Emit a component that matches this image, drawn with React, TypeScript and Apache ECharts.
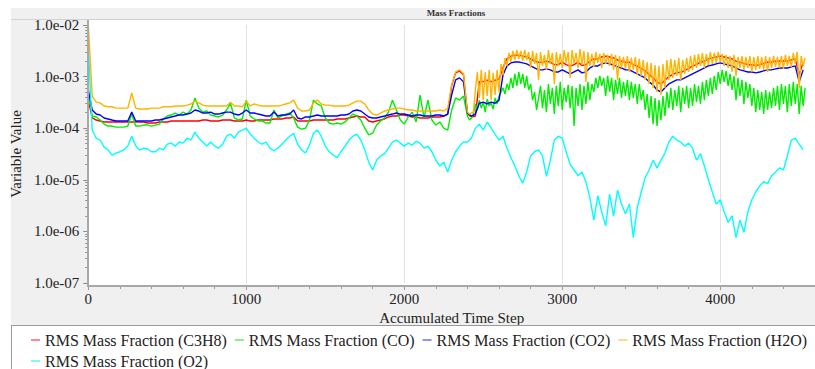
import React, { useEffect, useRef } from "react";
import * as echarts from "echarts";

// Sampling of the read-off points (accumulated time steps)
const COARSE_STEP = 25; // every sample of the coarse arrays
const FINE_START = 2400; // the noisy part of H2O / CO is read more densely
const FINE_STEP = 12.5;

const c3h8 = [
  3.5e-4, 1.58e-4, 1.44e-4, 1.38e-4, 1.32e-4, 1.32e-4, 1.32e-4, 1.32e-4, 1.32e-4, 1.32e-4,
  1.32e-4, 1.32e-4, 1.32e-4, 1.32e-4, 1.32e-4, 1.26e-4, 1.26e-4, 1.26e-4, 1.32e-4, 1.32e-4,
  1.32e-4, 1.38e-4, 1.38e-4, 1.38e-4, 1.38e-4, 1.38e-4, 1.38e-4, 1.38e-4, 1.38e-4, 1.44e-4,
  1.44e-4, 1.38e-4, 1.38e-4, 1.38e-4, 1.44e-4, 1.44e-4, 1.44e-4, 1.38e-4, 1.38e-4, 1.38e-4,
  1.44e-4, 1.38e-4, 1.38e-4, 1.44e-4, 1.44e-4, 1.44e-4, 1.44e-4, 1.51e-4, 1.51e-4, 1.51e-4,
  1.58e-4, 1.58e-4, 1.65e-4, 1.38e-4, 1.38e-4, 1.38e-4, 1.38e-4, 1.44e-4, 1.44e-4, 1.44e-4,
  1.44e-4, 1.44e-4, 1.44e-4, 1.51e-4, 1.51e-4, 1.51e-4, 1.58e-4, 1.65e-4, 1.72e-4, 1.65e-4,
  1.65e-4, 1.38e-4, 1.32e-4, 1.38e-4, 1.44e-4, 1.51e-4, 1.65e-4, 1.72e-4, 1.72e-4, 1.8e-4,
  1.8e-4, 1.72e-4, 1.65e-4, 1.65e-4, 1.58e-4, 1.58e-4, 1.58e-4, 1.65e-4, 1.65e-4, 1.65e-4,
  1.72e-4, 1.88e-4, 6.6e-4, 1.18e-3, 1.29e-3, 1.08e-3, 1.88e-4, 1.65e-4, 1.72e-4, 8.0e-4,
  8.0e-4, 8.5e-4, 8.0e-4, 8.5e-4, 9.0e-4, 1.5e-3, 2.2e-3, 2.5e-3, 2.6e-3, 2.6e-3,
  2.5e-3, 2.4e-3, 2.2e-3, 2.0e-3, 1.9e-3, 1.9e-3, 2.0e-3, 1.9e-3, 1.7e-3, 1.7e-3,
  1.9e-3, 1.7e-3, 1.6e-3, 1.7e-3, 1.9e-3, 1.65e-3, 1.7e-3, 2.0e-3, 2.2e-3, 2.2e-3,
  2.4e-3, 2.5e-3, 2.4e-3, 2.3e-3, 2.1e-3, 2.0e-3, 1.9e-3, 1.9e-3, 1.7e-3, 1.6e-3,
  1.45e-3, 1.3e-3, 1.1e-3, 9.5e-4, 7.8e-4, 7.2e-4, 8.5e-4, 1.0e-3, 1.1e-3, 1.2e-3,
  1.2e-3, 1.3e-3, 1.45e-3, 1.6e-3, 1.7e-3, 1.9e-3, 2.0e-3, 2.2e-3, 2.3e-3, 2.4e-3,
  2.5e-3, 2.4e-3, 2.3e-3, 2.2e-3, 2.0e-3, 1.9e-3, 1.8e-3, 1.7e-3, 1.7e-3, 1.65e-3,
  1.7e-3, 1.8e-3, 1.9e-3, 1.9e-3, 2.0e-3, 2.0e-3, 2.0e-3, 2.0e-3, 2.1e-3, 2.2e-3,
  1.1e-3, 1.9e-3,
];

// CO: coarse part (steps 0 .. 2375) and dense part (steps 2400 .. 4537.5)
const coEarly = [
  5.05e-4, 1.72e-4, 1.65e-4, 1.44e-4, 1.2e-4, 1.1e-4, 1.1e-4, 1.05e-4, 1.05e-4, 1.05e-4,
  1.1e-4, 1.88e-4, 1.1e-4, 1.1e-4, 1.15e-4, 1.15e-4, 1.1e-4, 1.15e-4, 1.2e-4, 1.51e-4,
  1.72e-4, 1.8e-4, 1.97e-4, 1.8e-4, 2.05e-4, 1.88e-4, 2.25e-4, 3.85e-4, 2.45e-4, 2.05e-4,
  2.15e-4, 1.8e-4, 1.72e-4, 1.65e-4, 1.8e-4, 2.25e-4, 3.05e-4, 1.58e-4, 1.44e-4, 1.51e-4,
  3.5e-4, 1.72e-4, 1.51e-4, 1.38e-4, 1.38e-4, 1.26e-4, 1.26e-4, 2.25e-4, 1.58e-4, 1.72e-4,
  1.88e-4, 1.97e-4, 1.58e-4, 1.05e-4, 9.6e-5, 1.0e-4, 1.44e-4, 3.5e-4, 2.95e-4, 2.7e-4,
  1.58e-4, 1.26e-4, 1.2e-4, 1.26e-4, 1.2e-4, 1.32e-4, 1.58e-4, 1.88e-4, 1.72e-4, 1.44e-4,
  1.0e-4, 7.4e-5, 8.0e-5, 1.15e-4, 1.38e-4, 1.58e-4, 2.05e-4, 3.5e-4, 2.25e-4, 1.44e-4,
  1.2e-4, 1.65e-4, 2.05e-4, 1.32e-4, 4.4e-4, 1.58e-4, 3.5e-4, 1.44e-4, 1.15e-4, 1.32e-4,
  1.0e-4, 9.2e-5, 2.25e-4, 3.85e-4, 3.5e-4, 4.2e-4,
];
const coLate = [
  1.72e-4, 1.44e-4, 1.58e-4, 1.88e-4, 2.95e-4, 2.25e-4, 3.5e-4, 2.45e-4, 3.2e-4, 2.05e-4,
  3.65e-4, 2.7e-4, 3.05e-4, 2.35e-4, 3.85e-4, 2.95e-4, 4.2e-4, 5.05e-4, 6.05e-4, 4.6e-4,
  7.2e-4, 5.5e-4, 9.45e-4, 6.05e-4, 1.13e-3, 6.6e-4, 1.23e-3, 7.2e-4, 1.13e-3, 6.05e-4,
  1.03e-3, 5.5e-4, 7.2e-4, 3.5e-4, 5.05e-4, 2.25e-4, 3.85e-4, 6.6e-4, 2.45e-4, 5.5e-4,
  2.05e-4, 7.2e-4, 2.95e-4, 6.05e-4, 1.88e-4, 6.6e-4, 2.7e-4, 7.9e-4, 2.25e-4, 6.05e-4,
  3.2e-4, 6.9e-4, 2.45e-4, 6.6e-4, 1.1e-4, 6.05e-4, 2.7e-4, 7.2e-4, 2.25e-4, 6.6e-4,
  2.95e-4, 7.9e-4, 3.5e-4, 7.2e-4, 5.05e-4, 9.45e-4, 6.05e-4, 1.03e-3, 6.6e-4, 9.45e-4,
  4.2e-4, 1.03e-3, 5.05e-4, 9.45e-4, 3.5e-4, 8.65e-4, 4.6e-4, 9.45e-4, 3.85e-4, 7.9e-4,
  4.2e-4, 8.65e-4, 3.5e-4, 7.9e-4, 3.85e-4, 7.2e-4, 2.95e-4, 7.2e-4, 3.5e-4, 5.5e-4,
  2.25e-4, 4.6e-4, 1.58e-4, 4.2e-4, 1.2e-4, 3.85e-4, 1.1e-4, 3.5e-4, 1.44e-4, 4.2e-4,
  1.72e-4, 5.05e-4, 2.45e-4, 6.05e-4, 2.25e-4, 5.5e-4, 2.7e-4, 6.6e-4, 2.05e-4, 6.05e-4,
  2.95e-4, 6.6e-4, 2.45e-4, 6.05e-4, 2.7e-4, 7.2e-4, 3.2e-4, 6.6e-4, 2.95e-4, 7.9e-4,
  3.5e-4, 8.65e-4, 4.2e-4, 9.45e-4, 4.6e-4, 1.03e-3, 5.5e-4, 1.23e-3, 7.2e-4, 1.35e-3,
  7.9e-4, 1.29e-3, 6.6e-4, 1.13e-3, 5.5e-4, 1.03e-3, 3.5e-4, 9.45e-4, 4.2e-4, 8.65e-4,
  2.95e-4, 7.9e-4, 3.85e-4, 7.2e-4, 2.7e-4, 6.05e-4, 2.05e-4, 5.5e-4, 2.25e-4, 5.05e-4,
  1.88e-4, 5.5e-4, 2.25e-4, 5.05e-4, 2.45e-4, 6.05e-4, 2.7e-4, 6.6e-4, 2.25e-4, 7.2e-4,
  2.95e-4, 6.6e-4, 2.05e-4, 7.2e-4, 2.7e-4, 7.9e-4, 2.95e-4, 7.2e-4, 1.88e-4, 6.6e-4,
  2.7e-4, 6.05e-4,
];

const co2 = [
  5.5e-4, 2.25e-4, 1.88e-4, 1.8e-4, 1.58e-4, 1.51e-4, 1.44e-4, 1.38e-4, 1.38e-4, 1.38e-4,
  1.38e-4, 2.05e-4, 1.38e-4, 1.38e-4, 1.38e-4, 1.38e-4, 1.38e-4, 1.44e-4, 1.44e-4, 1.51e-4,
  1.58e-4, 1.65e-4, 1.72e-4, 1.8e-4, 1.8e-4, 1.88e-4, 1.97e-4, 2.25e-4, 2.15e-4, 1.97e-4,
  1.97e-4, 2.05e-4, 1.88e-4, 1.88e-4, 1.97e-4, 2.05e-4, 2.05e-4, 1.88e-4, 1.8e-4, 1.97e-4,
  2.25e-4, 1.97e-4, 1.97e-4, 1.88e-4, 1.8e-4, 1.72e-4, 1.72e-4, 2.05e-4, 1.72e-4, 1.8e-4,
  1.8e-4, 1.88e-4, 2.25e-4, 1.58e-4, 1.51e-4, 1.65e-4, 1.65e-4, 1.72e-4, 1.8e-4, 1.72e-4,
  1.72e-4, 1.72e-4, 1.72e-4, 1.72e-4, 1.8e-4, 1.8e-4, 1.88e-4, 2.15e-4, 2.25e-4, 2.15e-4,
  1.88e-4, 1.65e-4, 1.58e-4, 1.58e-4, 1.65e-4, 1.72e-4, 1.8e-4, 1.88e-4, 1.97e-4, 1.88e-4,
  1.88e-4, 1.8e-4, 1.72e-4, 1.8e-4, 1.8e-4, 1.72e-4, 1.72e-4, 1.72e-4, 1.8e-4, 1.8e-4,
  1.72e-4, 1.88e-4, 4.4e-4, 8.65e-4, 9.45e-4, 7.9e-4, 1.97e-4, 1.72e-4, 1.88e-4, 3.05e-4,
  3.2e-4, 2.95e-4, 3.2e-4, 3.05e-4, 3.5e-4, 1.08e-3, 1.61e-3, 1.84e-3, 1.92e-3, 1.92e-3,
  1.84e-3, 1.76e-3, 1.61e-3, 1.47e-3, 1.35e-3, 1.35e-3, 1.41e-3, 1.35e-3, 1.23e-3, 1.23e-3,
  1.35e-3, 1.23e-3, 1.13e-3, 1.23e-3, 1.35e-3, 1.18e-3, 1.23e-3, 1.47e-3, 1.61e-3, 1.61e-3,
  1.76e-3, 1.84e-3, 1.76e-3, 1.68e-3, 1.54e-3, 1.47e-3, 1.35e-3, 1.35e-3, 1.23e-3, 1.13e-3,
  1.03e-3, 9.45e-4, 7.9e-4, 6.9e-4, 5.5e-4, 5.05e-4, 6.05e-4, 7.2e-4, 7.9e-4, 8.65e-4,
  8.65e-4, 9.45e-4, 1.03e-3, 1.13e-3, 1.23e-3, 1.35e-3, 1.47e-3, 1.61e-3, 1.68e-3, 1.76e-3,
  1.84e-3, 1.76e-3, 1.68e-3, 1.61e-3, 1.47e-3, 1.35e-3, 1.29e-3, 1.23e-3, 1.23e-3, 1.18e-3,
  1.23e-3, 1.29e-3, 1.35e-3, 1.35e-3, 1.41e-3, 1.47e-3, 1.47e-3, 1.47e-3, 1.54e-3, 1.61e-3,
  7.9e-4, 1.35e-3,
];

// H2O: coarse part (steps 0 .. 2375) and dense part (steps 2400 .. 4537.5)
const h2oEarly = [
  1.0e-2, 4.2e-4, 3.2e-4, 3.1e-4, 2.7e-4, 2.6e-4, 2.6e-4, 2.45e-4, 2.45e-4, 2.45e-4,
  2.45e-4, 4.8e-4, 2.45e-4, 2.35e-4, 2.35e-4, 2.35e-4, 2.45e-4, 2.45e-4, 2.45e-4, 2.6e-4,
  2.6e-4, 2.6e-4, 2.7e-4, 2.7e-4, 2.7e-4, 2.8e-4, 2.95e-4, 3.35e-4, 3.1e-4, 2.8e-4,
  2.7e-4, 2.7e-4, 2.7e-4, 2.7e-4, 2.7e-4, 2.7e-4, 3.2e-4, 2.7e-4, 2.7e-4, 2.6e-4,
  3.35e-4, 2.7e-4, 2.95e-4, 2.8e-4, 2.7e-4, 2.7e-4, 2.7e-4, 2.7e-4, 2.7e-4, 2.8e-4,
  2.95e-4, 3.1e-4, 3.5e-4, 2.45e-4, 2.15e-4, 2.15e-4, 2.25e-4, 3.1e-4, 3.5e-4, 2.95e-4,
  2.8e-4, 2.8e-4, 2.7e-4, 2.7e-4, 2.7e-4, 2.7e-4, 2.8e-4, 3.1e-4, 3.35e-4, 3.35e-4,
  2.95e-4, 2.25e-4, 1.88e-4, 1.8e-4, 1.97e-4, 2.15e-4, 2.25e-4, 2.35e-4, 2.45e-4, 2.45e-4,
  2.35e-4, 2.25e-4, 2.25e-4, 2.15e-4, 2.15e-4, 2.15e-4, 2.15e-4, 2.15e-4, 2.15e-4, 2.25e-4,
  2.15e-4, 2.45e-4, 6.9e-4, 1.23e-3, 1.35e-3, 1.13e-3,
];
const h2oLate = [
  2.05e-4, 1.88e-4, 1.97e-4, 2.05e-4, 5.5e-4, 1.23e-3, 3.85e-4, 1.35e-3, 3.5e-4, 1.23e-3,
  4.2e-4, 1.35e-3, 3.5e-4, 1.18e-3, 4.4e-4, 1.35e-3, 5.05e-4, 1.76e-3, 1.08e-3, 2.3e-3,
  1.61e-3, 2.87e-3, 1.92e-3, 3.14e-3, 2.1e-3, 3.28e-3, 2.2e-3, 3.14e-3, 2.01e-3, 3.28e-3,
  2.1e-3, 3.0e-3, 1.47e-3, 3.14e-3, 1.76e-3, 2.87e-3, 8.65e-4, 3.0e-3, 1.61e-3, 2.63e-3,
  1.35e-3, 3.28e-3, 1.76e-3, 2.87e-3, 7.2e-4, 3.0e-3, 1.61e-3, 2.75e-3, 1.47e-3, 3.28e-3,
  1.84e-3, 3.0e-3, 9.45e-4, 3.28e-3, 1.76e-3, 2.87e-3, 1.47e-3, 3.43e-3, 1.68e-3, 3.14e-3,
  7.9e-4, 3.0e-3, 1.61e-3, 2.75e-3, 1.54e-3, 3.0e-3, 1.84e-3, 2.75e-3, 1.47e-3, 2.87e-3,
  1.76e-3, 2.63e-3, 1.61e-3, 2.75e-3, 1.35e-3, 2.63e-3, 8.65e-4, 2.51e-3, 1.47e-3, 2.4e-3,
  1.41e-3, 2.51e-3, 1.23e-3, 2.3e-3, 1.35e-3, 2.4e-3, 1.08e-3, 2.2e-3, 1.03e-3, 2.1e-3,
  8.65e-4, 1.92e-3, 7.2e-4, 1.84e-3, 6.05e-4, 1.68e-3, 5.05e-4, 1.61e-3, 4.4e-4, 1.76e-3,
  6.05e-4, 2.1e-3, 8.65e-4, 2.2e-3, 9.45e-4, 2.1e-3, 1.03e-3, 2.3e-3, 8.65e-4, 2.1e-3,
  1.13e-3, 2.3e-3, 1.23e-3, 2.51e-3, 1.35e-3, 2.63e-3, 1.47e-3, 2.75e-3, 1.61e-3, 2.87e-3,
  1.47e-3, 2.75e-3, 1.68e-3, 3.0e-3, 1.76e-3, 2.87e-3, 1.84e-3, 3.0e-3, 1.92e-3, 2.75e-3,
  1.61e-3, 2.63e-3, 1.47e-3, 2.51e-3, 1.23e-3, 2.63e-3, 1.03e-3, 2.4e-3, 1.47e-3, 2.51e-3,
  1.35e-3, 2.4e-3, 1.47e-3, 2.51e-3, 1.23e-3, 2.4e-3, 1.35e-3, 2.51e-3, 1.41e-3, 2.4e-3,
  1.35e-3, 2.51e-3, 1.23e-3, 2.4e-3, 1.47e-3, 2.51e-3, 1.54e-3, 2.4e-3, 1.47e-3, 2.51e-3,
  1.41e-3, 2.63e-3, 1.61e-3, 2.51e-3, 1.54e-3, 2.87e-3, 1.76e-3, 3.0e-3, 6.05e-4, 2.51e-3,
  1.61e-3, 2.3e-3,
];

const o2 = [
  3.75e-3, 9.2e-5, 6.4e-5, 5.9e-5, 4.3e-5, 3.8e-5, 3.0e-5, 3.3e-5, 3.5e-5, 3.8e-5,
  4.5e-5, 7.0e-5, 4.5e-5, 3.8e-5, 4.1e-5, 3.95e-5, 3.5e-5, 3.5e-5, 4.1e-5, 3.8e-5,
  4.9e-5, 5.15e-5, 4.5e-5, 5.4e-5, 5.15e-5, 6.4e-5, 5.9e-5, 8.4e-5, 6.4e-5, 5.4e-5,
  4.5e-5, 5.4e-5, 4.5e-5, 4.1e-5, 4.9e-5, 7.0e-5, 7.7e-5, 6.4e-5, 8.4e-5, 9.2e-5,
  1.0e-4, 7.7e-5, 6.4e-5, 5.4e-5, 4.9e-5, 5.4e-5, 4.1e-5, 3.65e-5, 4.1e-5, 4.9e-5,
  5.9e-5, 7.0e-5, 8.0e-5, 4.9e-5, 3.8e-5, 3.3e-5, 4.7e-5, 8.0e-5, 9.2e-5, 7.0e-5,
  4.5e-5, 3.5e-5, 3.0e-5, 2.7e-5, 3.5e-5, 4.5e-5, 5.9e-5, 7.0e-5, 7.7e-5, 5.9e-5,
  3.8e-5, 2.2e-5, 1.55e-5, 2.4e-5, 2.9e-5, 3.2e-5, 4.1e-5, 5.4e-5, 5.9e-5, 5.15e-5,
  4.5e-5, 5.15e-5, 4.7e-5, 5.6e-5, 5.15e-5, 4.1e-5, 4.5e-5, 3.5e-5, 2.4e-5, 1.85e-5,
  2.2e-5, 1.42e-5, 2.4e-5, 3.5e-5, 4.5e-5, 5.4e-5, 5.4e-5, 6.4e-5, 1.0e-4, 1.2e-4,
  9.2e-5, 1.32e-4, 1.0e-4, 7.7e-5, 5.9e-5, 7.0e-5, 4.1e-5, 2.7e-5, 1.85e-5, 1.2e-5,
  8.6e-6, 1.42e-5, 2.9e-5, 3.5e-5, 3.8e-5, 2.9e-5, 1.17e-5, 2.4e-5, 5.9e-5, 7.0e-5,
  6.4e-5, 3.5e-5, 2.0e-5, 1.55e-5, 1.2e-5, 1.42e-5, 9.2e-6, 4.5e-6, 1.66e-6, 4.9e-6,
  2.4e-6, 1.28e-6, 5.3e-6, 2.0e-6, 6.3e-6, 3.4e-6, 2.2e-6, 3.4e-6, 7.6e-7, 2.9e-6,
  5.8e-6, 1.1e-5, 1.55e-5, 2.4e-5, 1.7e-5, 2.4e-5, 3.3e-5, 5.4e-5, 7.0e-5, 5.9e-5,
  5.4e-5, 4.5e-5, 5.15e-5, 4.1e-5, 2.4e-5, 3.2e-5, 1.85e-5, 1.0e-5, 5.8e-6, 3.4e-6,
  4.1e-6, 2.4e-6, 1.5e-6, 2.0e-6, 7.6e-7, 1.66e-6, 9.6e-7, 2.4e-6, 4.1e-6, 5.8e-6,
  7.6e-6, 9.2e-6, 8.4e-6, 1.2e-5, 1.42e-5, 1.7e-5, 1.55e-5, 2.9e-5, 5.9e-5, 6.4e-5,
  4.9e-5, 3.8e-5,
];

const coarseSteps = c3h8.map((_, i) => i * COARSE_STEP);
const fineSteps = h2oLate.map((_, j) => FINE_START + j * FINE_STEP);

const xTicks = [0, 1000, 2000, 3000, 4000];
const yDecades = [1e-7, 1e-6, 1e-5, 1e-4, 1e-3, 1e-2];

const NAMES = {
  c3h8: "RMS Mass Fraction (C3H8)",
  co: "RMS Mass Fraction (CO)",
  co2: "RMS Mass Fraction (CO2)",
  h2o: "RMS Mass Fraction (H2O)",
  o2: "RMS Mass Fraction (O2)",
};

const pairs = (xs: number[], ys: number[]) => ys.map((v, i) => [xs[i], v]);

const seriesDefs = [
  { name: NAMES.c3h8, data: pairs(coarseSteps, c3h8), color: "#ff0000", legendColor: "#ff8a8a" },
  {
    name: NAMES.co,
    data: [...pairs(coarseSteps, coEarly), ...pairs(fineSteps, coLate)],
    color: "#00ee00",
    legendColor: "#8af08a",
  },
  { name: NAMES.co2, data: pairs(coarseSteps, co2), color: "#0000ff", legendColor: "#9090ff" },
  {
    name: NAMES.h2o,
    data: [...pairs(coarseSteps, h2oEarly), ...pairs(fineSteps, h2oLate)],
    color: "#ffb400",
    legendColor: "#ffd98a",
  },
  { name: NAMES.o2, data: pairs(coarseSteps, o2), color: "#00ffff", legendColor: "#8af5f5" },
];

const SERIF = "Liberation Serif";

function fmtExp(v: number): string {
  const e = Math.round(Math.log10(v));
  return "1.0e" + (e < 0 ? "-" : "+") + String(Math.abs(e)).padStart(2, "0");
}

const legendBase = {
  left: 31,
  width: 790,
  padding: 0,
  icon: "rect",
  itemWidth: 9,
  itemHeight: 2,
  itemGap: 8,
  textStyle: { fontSize: 16, color: "#222", fontFamily: SERIF },
};

export default function App() {
  const ref = useRef<HTMLDivElement>(null);
  useEffect(() => {
    if (!ref.current) return;
    const chart = echarts.init(ref.current, null, { renderer: "svg" });
    chart.setOption({
      animation: false,
      textStyle: { fontFamily: SERIF },
      title: {
        text: "Mass Fractions",
        left: 456,
        top: 8,
        textAlign: "center",
        padding: 0,
        textStyle: { fontSize: 9, fontWeight: "bold", color: "#333", fontFamily: SERIF },
      },
      graphic: [
        { type: "rect", z: -100, shape: { x: 11, y: 8, width: 804, height: 317 }, style: { fill: "#f0f0f0" } },
        { type: "line", z: -99, shape: { x1: 11, y1: 19.5, x2: 815, y2: 19.5 }, style: { stroke: "#d2d2d2", lineWidth: 1 } },
        { type: "rect", z: -98, shape: { x: 88, y: 20, width: 727, height: 266 }, style: { fill: "#ffffff" } },
        { type: "line", z: 50, shape: { x1: 88, y1: 20, x2: 88, y2: 287 }, style: { stroke: "#a8a8a8", lineWidth: 2 } },
        { type: "line", z: 50, shape: { x1: 87, y1: 286, x2: 815, y2: 286 }, style: { stroke: "#a8a8a8", lineWidth: 2 } },
        { type: "line", z: 50, shape: { x1: 11, y1: 325.5, x2: 815, y2: 325.5 }, style: { stroke: "#9a9a9a", lineWidth: 1 } },
        { type: "line", z: 50, shape: { x1: 11.5, y1: 325, x2: 11.5, y2: 369 }, style: { stroke: "#9a9a9a", lineWidth: 1 } },
      ],
      grid: { left: 88, top: 25, width: 736, height: 258 },
      xAxis: {
        type: "value",
        min: 0,
        max: 4600,
        interval: xTicks[1] - xTicks[0],
        offset: 3,
        axisLine: { show: false },
        axisTick: { show: true, length: 4, lineStyle: { color: "#999" } },
        minorTick: { show: true, splitNumber: 5, length: 3, lineStyle: { color: "#999" } },
        splitLine: { show: true, lineStyle: { color: "#e2e2e2", width: 1 } },
        axisLabel: {
          fontSize: 15,
          color: "#222",
          margin: 5,
          fontFamily: SERIF,
          showMaxLabel: false,
          formatter: (v: number) => (xTicks.includes(v) ? String(v) : ""),
        },
        name: "Accumulated Time Step",
        nameLocation: "middle",
        nameGap: 12,
        nameTextStyle: { fontSize: 15, color: "#222", fontFamily: SERIF },
      },
      yAxis: {
        type: "log",
        logBase: 10,
        min: yDecades[0],
        max: yDecades[yDecades.length - 1],
        axisLine: { show: false },
        axisTick: { show: true, length: 5, lineStyle: { color: "#888" } },
        minorTick: { show: true, splitNumber: 9, length: 3, lineStyle: { color: "#888" } },
        splitLine: { show: false },
        axisLabel: {
          fontSize: 15,
          color: "#222",
          margin: 9,
          fontFamily: SERIF,
          formatter: (v: number) => fmtExp(v),
        },
        name: "Variable Value",
        nameLocation: "middle",
        nameGap: 57,
        nameTextStyle: { fontSize: 15, color: "#222", fontFamily: SERIF },
      },
      legend: [
        {
          ...legendBase,
          top: 332,
          data: seriesDefs.slice(0, 4).map((s) => ({ name: s.name, itemStyle: { color: s.legendColor } })),
        },
        {
          ...legendBase,
          top: 353,
          data: seriesDefs.slice(4).map((s) => ({ name: s.name, itemStyle: { color: s.legendColor } })),
        },
      ],
      series: seriesDefs.map((s) => ({
        name: s.name,
        type: "line",
        showSymbol: false,
        symbol: "none",
        clip: true,
        color: s.color,
        lineStyle: { color: s.color, width: 1.4 },
        data: s.data,
      })),
    });
    return () => chart.dispose();
  }, []);
  return (
    <div
      ref={ref}
      style={{ position: "absolute", left: 0, top: 0, width: 815, height: 369, background: "#ffffff" }}
    />
  );
}
